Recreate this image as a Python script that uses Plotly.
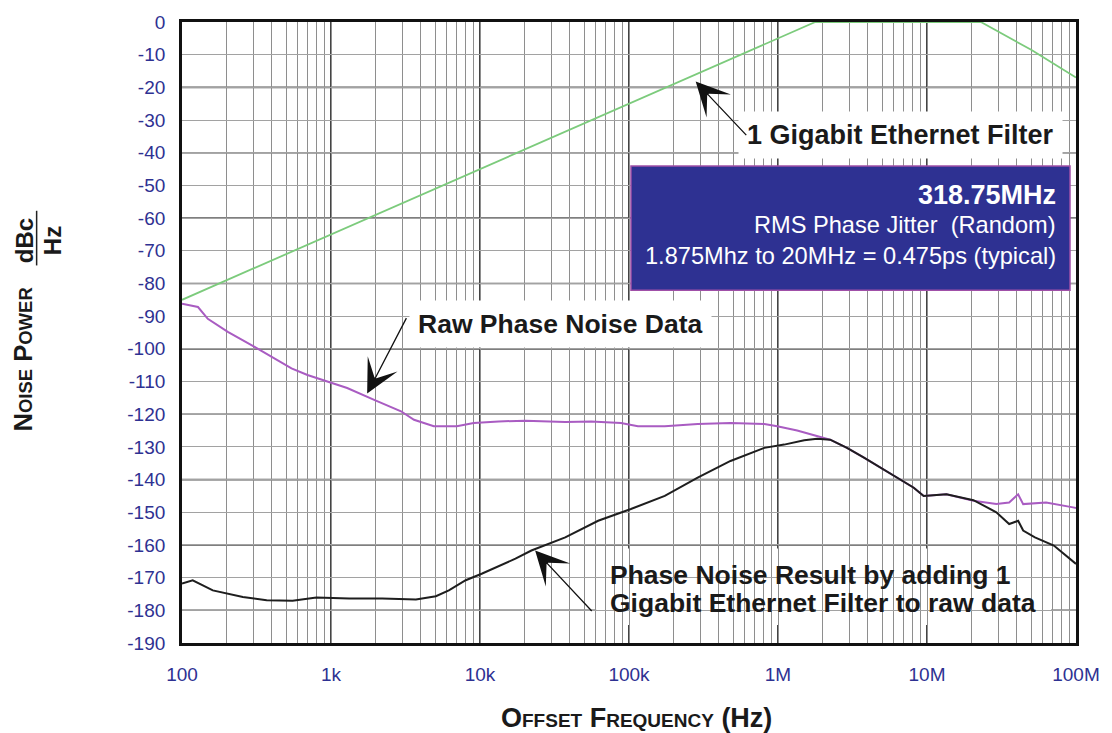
import plotly.graph_objects as go

# ---------------- data ----------------
filter_freq = [100, 1e3, 1e4, 1e5, 1e6, 1.78e6, 2.3e7, 5e7, 1e8]
filter_db = [-85, -65, -45, -25, -5, 0, 0, -8.5, -17]

raw_freq = [100, 128, 149, 203, 307, 418, 543, 695, 945, 1284, 1949, 2951, 3606,
            4900, 6982, 9075, 13335, 20180, 37325, 55710, 88330, 114800, 173800,
            289000, 480000, 810000, 988000, 1.345e6, 2.239e6, 2.904e6, 3.775e6,
            6.27e6, 8.15e6, 9.5e6, 1.35e7, 2.05e7, 2.92e7, 3.56e7, 4.09e7,
            4.42e7, 6.3e7, 9.55e7, 1e8]
raw_db = [-86.2, -87.2, -90.8, -94.8, -99.4, -103, -106, -108, -110, -112, -115.6,
          -119.1, -121.7, -123.7, -123.7, -122.7, -122.2, -122.0, -122.4, -122.2,
          -122.7, -123.7, -123.7, -123.0, -122.7, -123.0, -123.7, -125.0, -127.8,
          -130.3, -133.3, -139.5, -142.5, -145.0, -144.5, -146.5, -147.5, -147.0,
          -144.5, -147.5, -147.0, -148.5, -148.7]

res_freq = [100, 118, 161, 256, 370, 552, 798, 1325, 2203, 3715, 5057, 6180, 8020,
            10260, 17300, 22130, 37330, 62080, 103000, 173800, 289000, 480000,
            810000, 1.1e6, 1.5e6, 1.83e6, 2.239e6, 2.904e6, 3.775e6, 6.27e6,
            8.15e6, 9.5e6, 1.35e7, 2.05e7, 2.92e7, 3.56e7, 4.09e7, 4.42e7, 5.3e7,
            7.1e7, 9.55e7, 1e8]
res_db = [-171.8, -170.8, -173.9, -175.9, -176.9, -177.1, -176.1, -176.4, -176.4,
          -176.7, -175.7, -173.9, -170.8, -168.8, -164.2, -161.7, -157.7, -152.6,
          -149.0, -145.0, -139.4, -134.3, -130.3, -129.3, -128.0, -127.5, -127.8,
          -130.3, -133.3, -139.5, -142.5, -145.0, -144.5, -146.3, -150.0, -153.6,
          -152.6, -155.6, -157.7, -160.2, -165.3, -165.8]

x_decades = [100, 1e3, 1e4, 1e5, 1e6, 1e7, 1e8]
x_tick_labels = ["100", "1k", "10k", "100k", "1M", "10M", "100M"]
y_ticks = list(range(-190, 1, 10))

# ---------------- figure ----------------
FONT = "Liberation Sans, Arial, Helvetica, sans-serif"
NAVY = "#2e3192"
INK = "#1a1a1a"

fig = go.Figure()
fig.add_trace(go.Scatter(x=filter_freq, y=filter_db, mode="lines",
                         line=dict(color="#7ccb7c", width=1.8), showlegend=False))
fig.add_trace(go.Scatter(x=raw_freq, y=raw_db, mode="lines",
                         line=dict(color="#a95cc2", width=2), showlegend=False))
fig.add_trace(go.Scatter(x=res_freq, y=res_db, mode="lines",
                         line=dict(color="#1e1e1e", width=2), showlegend=False))

# minor log grid positions (1..9 per decade)
all_x = []
for d in x_decades[:-1]:
    for m in range(1, 10):
        all_x.append(d * m)
all_x.append(x_decades[-1])
x_text = [x_tick_labels[x_decades.index(v)] if v in x_decades else "" for v in all_x]

fig.update_xaxes(type="log", range=[2, 8], tickmode="array", tickvals=all_x,
                 ticktext=x_text, showgrid=True, gridcolor="#8e8e8e", gridwidth=1.2,
                 ticks="outside", ticklen=12, tickcolor="rgba(0,0,0,0)",
                 tickfont=dict(family=FONT, size=19, color=NAVY),
                 showline=True, linecolor="#111", linewidth=2.8, mirror=True,
                 zeroline=False)
fig.update_yaxes(range=[-190, 0], tickmode="array", tickvals=y_ticks,
                 ticktext=[str(v) for v in y_ticks], showgrid=True,
                 gridcolor="#a2a2a2", gridwidth=1.2, ticks="outside", ticklen=10,
                 tickcolor="rgba(0,0,0,0)",
                 tickfont=dict(family=FONT, size=19, color=NAVY),
                 showline=True, linecolor="#111", linewidth=2.8, mirror=True,
                 zeroline=False)

shapes = []
# darker decade lines and darker 20 dB lines
for d in x_decades[1:-1]:
    shapes.append(dict(type="line", xref="x", yref="paper", x0=d, x1=d, y0=0, y1=1,
                       line=dict(color="#444", width=2), layer="between"))
for v in y_ticks[1:-1]:
    if v % 20 == 0:
        shapes.append(dict(type="line", xref="paper", yref="y", x0=0, x1=1, y0=v, y1=v,
                           line=dict(color="#555", width=1.6), layer="between"))
# white box behind bottom annotation
shapes.append(dict(type="rect", xref="paper", yref="paper", x0=0.4633, x1=0.9722,
                   y0=0.0288, y1=0.152, fillcolor="white", line=dict(width=0),
                   layer="between"))
# navy info box
shapes.append(dict(type="rect", xref="paper", yref="paper", x0=0.5022, x1=0.9933,
                   y0=0.568, y1=0.768, fillcolor=NAVY,
                   line=dict(color="#a050a8", width=1.5), layer="above"))
# fraction bar dBc / Hz
shapes.append(dict(type="line", xref="paper", yref="paper", x0=-0.1626, x1=-0.1626,
                   y0=0.608, y1=0.696, line=dict(color="#222", width=1.5)))

ann = []
def A(**kw):
    base = dict(xref="paper", yref="paper", showarrow=False, xanchor="center",
                yanchor="middle")
    base.update(kw)
    ann.append(base)

bold = dict(family=FONT, size=26.5, color=INK)
A(text="<b>1 Gigabit Ethernet Filter</b>", x=0.804, y=0.8176,
  font=dict(family=FONT, size=27, color=INK), bgcolor="white", borderpad=8)
A(text="<b>Raw Phase Noise Data</b>", x=0.4232, y=0.5136, font=bold,
  bgcolor="white", borderpad=8)
A(text="<b>Phase Noise Result by adding 1</b>", x=0.4766, y=0.1088,
  xanchor="left", font=bold)
A(text="<b>Gigabit Ethernet Filter to raw data</b>", x=0.4766, y=0.064,
  xanchor="left", font=bold)
white = dict(family=FONT, size=23.6, color="white")
A(text="<b>318.75MHz</b>", x=0.98, y=0.7216, xanchor="right",
  font=dict(family=FONT, size=27, color="white"))
A(text="RMS Phase Jitter\u00a0 (Random)", x=0.98, y=0.6736, xanchor="right",
  font=white)
A(text="1.875Mhz to 20MHz = 0.475ps (typical)", x=0.98, y=0.6224,
  xanchor="right", font=white)

# arrows (tips on the curves, log10 x for log axis)
arrow = dict(showarrow=True, arrowhead=3, arrowwidth=1.3, arrowsize=4.3,
             arrowcolor="#111", text="", xref="x", yref="y", standoff=0)
ann.append(dict(arrow, x=5.4476, y=-18.24, ax=52, ay=55))
ann.append(dict(arrow, x=3.2427, y=-113.7, ax=40, ay=-77))
ann.append(dict(arrow, x=4.370, y=-161.7, ax=58, ay=62))

# axis titles (small caps)
def sc(word, small):
    return word[0] + "<span style='font-size:%spx'>%s</span>" % (small, word[1:])

A(text="<b>" + sc("OFFSET", 19) + " " + sc("FREQUENCY", 19) + " (Hz)</b>",
  x=0.5089, y=-0.12, font=dict(family=FONT, size=27, color=INK))
A(text="<b>" + sc("NOISE", 18.5) + " " + sc("POWER", 18.5) + "</b>",
  x=-0.1782, y=0.456, textangle=-90, font=dict(family=FONT, size=25.5, color=INK))
A(text="<b>dBc</b>", x=-0.176, y=0.648, textangle=-90,
  font=dict(family=FONT, size=24, color=INK))
A(text="<b>Hz</b>", x=-0.1448, y=0.648, textangle=-90,
  font=dict(family=FONT, size=24, color=INK))

fig.update_layout(width=1112, height=733, margin=dict(l=182, r=32, t=18, b=90),
                  plot_bgcolor="white", paper_bgcolor="white", shapes=shapes,
                  annotations=ann, showlegend=False, font=dict(family=FONT))

fig.write_html("out.html", config={"displayModeBar": False},
               post_script="document.body.style.margin='0px';")
